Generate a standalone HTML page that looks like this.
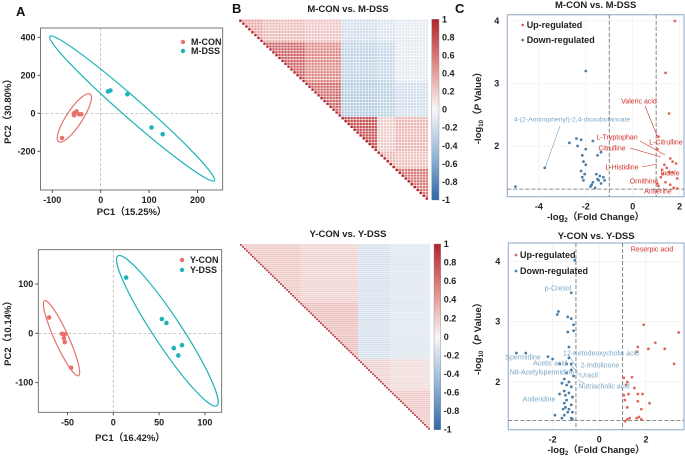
<!DOCTYPE html>
<html><head><meta charset="utf-8">
<style>
html,body{margin:0;padding:0;background:#fff;}
svg{display:block;font-family:"Liberation Sans",Arial,sans-serif;}
.tk{font-size:9px;font-weight:bold;fill:#222;}
.at{font-size:9.5px;font-weight:bold;fill:#222;}
.pl{font-size:13px;font-weight:bold;fill:#111;}
</style></head>
<body>
<svg id="fig" width="685" height="458" viewBox="0 0 685 458"></svg>
<script>
// ---------- DATA ----------
// PCA top (M)
const pcaTopCON_x=[-80,-55,-50,-45,-55,-40];
const pcaTopCON_y=[-130,-10,10,-5,0,-5];
const pcaTopDSS_x=[15,20,55,105,128];
const pcaTopDSS_y=[115,120,100,-75,-110];
const pcaTopXTicks=[-100,0,100,200];
const pcaTopYTicks=[400,200,0,-200];
// PCA bottom (Y)
const pcaBotCON_x=[-70,-56,-53,-54,-53,-46];
const pcaBotCON_y=[32,-1,-2,-10,-18,-70];
const pcaBotDSS_x=[14,53,58,66,71,75];
const pcaBotDSS_y=[113,29,21,-30,-45,-24];
const pcaBotXTicks=[-50,0,50,100];
const pcaBotYTicks=[100,0,-100];
// Heatmap group structure
const hmTopGroups=[8,14,12,12,6,11];
const hmTopCorr=[[0.4,0.3,0.25,-0.2,-0.15,-0.1],[0,0.75,0.55,-0.3,-0.25,-0.1],[0,0,0.7,-0.35,-0.3,-0.2],[0,0,0,0.8,0.2,0.3],[0,0,0,0,0.3,0.25],[0,0,0,0,0,0.6]];
const hmBotGroups=[30,29,16,20];
const hmBotCorr=[[0.25,0.2,-0.2,-0.15],[0,0.3,-0.2,-0.15],[0,0,0.2,0.15],[0,0,0,0.25]];
const cbTicks=["1","0.8","0.6","0.4","0.2","0","-0.2","-0.4","-0.6","-0.8","-1"];
// Volcano top
const vTopUp_x=[1.8,1.4,1.55,1.1,1.05,1.6,1.7,1.85,1.35,1.45,1.25,1.55,1.3,1.2,1.7,1.9,1.05,1.4,1.6,1.1,1.75,1.9];
const vTopUp_y=[4.0,3.17,2.52,2.15,1.95,1.8,1.75,1.72,1.7,1.65,1.62,1.58,1.55,1.5,1.58,1.48,1.4,1.42,1.38,1.36,1.33,1.32];
const vTopDn_x=[-2.0,-3.75,-5.0,-2.4,-2.2,-2.7,-2.35,-1.7,-2.0,-2.15,-1.5,-2.1,-2.0,-1.35,-2.2,-2.05,-2.15,-2.1,-1.55,-1.4,-1.25,-1.5,-1.45,-1.7,-1.35,-1.75,-1.8,-1.6,-1.2];
const vTopDn_y=[3.2,1.65,1.35,2.12,2.1,2.05,2.0,2.08,1.95,1.85,1.85,1.75,1.7,1.9,1.6,1.55,1.5,1.45,1.55,1.52,1.5,1.47,1.45,1.42,1.4,1.38,1.35,1.33,1.45];
const vTopXTicks=[-4,-2,0,2];
const vTopYTicks=[4,3,2];
// Volcano bottom
const vBotUp_x=[1.9,3.4,2.4,1.65,2.1,2.8,1.6,3.2,1.05,1.4,1.2,1.15,1.5,1.05,1.25,1.65,1.85,1.1,1.65,2.15,1.8,1.2,1.3,1.2,1.6,1.8,1.1,1.7];
const vBotUp_y=[2.95,2.82,2.65,2.58,2.55,2.55,2.5,2.3,2.07,2.08,2.0,1.95,1.9,1.78,1.8,1.8,1.8,1.7,1.68,1.65,1.55,1.58,1.4,1.38,1.4,1.38,1.35,1.42];
const vBotDn_x=[-1.05,-1.2,-1.75,-1.8,-1.35,-1.2,-1.1,-1.35,-1.1,-1.3,-3.55,-3.15,-2.2,-2.0,-1.3,-1.4,-1.2,-1.7,-1.4,-1.2,-1.1,-1.5,-1.3,-1.6,-1.4,-1.2,-1.5,-1.3,-1.7,-1.45,-1.15,-1.4,-1.5,-1.2,-1.45,-1.3,-1.15,-1.9,-1.5,-1.6,-1.2,-1.15,-1.35,-1.55];
const vBotDn_y=[4.02,3.48,3.17,3.12,3.08,3.05,2.95,2.83,2.85,2.58,2.48,2.48,2.42,2.38,2.4,2.3,2.3,2.3,2.15,2.2,2.1,2.05,2.0,1.98,1.95,1.92,1.85,1.82,1.8,1.78,1.75,1.7,1.65,1.62,1.58,1.55,1.5,1.45,1.45,1.4,1.4,1.38,1.5,1.55];
const vBotXTicks=[-2,0,2];
const vBotYTicks=[4,3,2];

// ---------- HELPERS ----------
const NS="http://www.w3.org/2000/svg";
const svg=document.getElementById('fig');
function mk(tag,attrs,parent){const e=document.createElementNS(NS,tag);for(const k in attrs)e.setAttribute(k,attrs[k]);(parent||svg).appendChild(e);return e;}
function txt(x,y,s,cls,extra,parent){const t=mk('text',Object.assign({x:x,y:y,class:cls||''},extra||{}),parent);t.textContent=s;return t;}
function lin(d0,d1,r0,r1){return v=>r0+(v-d0)*(r1-r0)/(d1-d0);}

// ---------- PANEL LABELS ----------
[["A",16,16],["B",232,13],["C",455,13]].forEach(p=>{
  const t=txt(p[1],p[2],p[0],'pl');
  
  
});

// ---------- PCA ----------
function pca(cfg){
  const g=mk('g',{});
  
  
  const X=cfg.X,Y=cfg.Y,b=cfg.box;
  const frame=mk('rect',{x:b[0],y:b[1],width:b[2]-b[0],height:b[3]-b[1],fill:'none',stroke:'#555','stroke-width':0.8},g);
  
  
  mk('line',{x1:X(0),x2:X(0),y1:b[1],y2:b[3],stroke:'#aaa','stroke-dasharray':'3,2','stroke-width':0.7},g);
  mk('line',{x1:b[0],x2:b[2],y1:Y(0),y2:Y(0),stroke:'#aaa','stroke-dasharray':'3,2','stroke-width':0.7},g);
  cfg.xt.forEach(v=>{mk('line',{x1:X(v),x2:X(v),y1:b[3],y2:b[3]+3,stroke:'#555'},g);
    const t=txt(X(v),b[3]+13,String(v),'tk',{'text-anchor':'middle'},g);
    
    });
  cfg.yt.forEach(v=>{mk('line',{x1:b[0]-3,x2:b[0],y1:Y(v),y2:Y(v),stroke:'#555'},g);
    const t=txt(b[0]-5,Y(v)+3,String(v),'tk',{'text-anchor':'end'},g);
    
    });
  const xt=txt((b[0]+b[2])/2,cfg.xlabY,cfg.xlab,'at',{'text-anchor':'middle'},g);
  
  
  const yc=(b[1]+b[3])/2;
  const yt=txt(11,yc,cfg.ylab,'at',{'text-anchor':'middle',transform:'rotate(-90 11 '+yc+')'},g);
  
  
  cfg.ell.forEach(e=>{
    const x1=X(e[0]),y1=Y(e[1]),x2=X(e[2]),y2=Y(e[3]);
    const cx=(x1+x2)/2,cy=(y1+y2)/2,rx=Math.hypot(x2-x1,y2-y1)/2,ang=Math.atan2(y2-y1,x2-x1)*180/Math.PI;
    const el=mk('ellipse',{cx:cx,cy:cy,rx:rx,ry:e[4],fill:'none',stroke:e[5],'stroke-width':1.2,transform:'rotate('+ang+' '+cx+' '+cy+')'},g);
    
    
  });
  cfg.series.forEach(s=>{
    s.x.forEach((v,i)=>{
      const c=mk('circle',{cx:X(v),cy:Y(s.y[i]),r:2.3,fill:s.c},g);
      
      
    });
    const lg=mk('circle',{cx:cfg.leg[0],cy:s.ly,r:2.2,fill:s.c},g);
    
    
    const lt=txt(cfg.leg[0]+8,s.ly+3,s.label,'tk',{},g);
    
    
  });
}
const RED='#e8716a',TEAL='#1db3b8';
{
  const X=lin(0,100,100.7,149.1),Y=lin(0,200,113.3,75.3);
  pca({name:'pca-m',X:X,Y:Y,box:[40.5,28,222.7,190],xt:pcaTopXTicks,yt:pcaTopYTicks,
    xlab:'PC1（15.25%）',xlabY:215,ylab:'PC2（30.80%）',leg:[183],
    ell:[[-105,405,235,-355,10,TEAL],[-22,101,-87,-150,8,RED]],
    series:[{name:'m-con',x:pcaTopCON_x,y:pcaTopCON_y,c:RED,label:'M-CON',ly:42},
            {name:'m-dss',x:pcaTopDSS_x,y:pcaTopDSS_y,c:TEAL,label:'M-DSS',ly:51}]});
}
{
  const X=lin(0,50,113.3,159.1),Y=lin(0,100,333.3,284);
  pca({name:'pca-y',X:X,Y:Y,box:[38.3,249.7,221.7,412.3],xt:pcaBotXTicks,yt:pcaBotYTicks,
    xlab:'PC1（16.42%）',xlabY:441,ylab:'PC2（10.14%）',leg:[182],
    ell:[[-75,66,-38,-86,7,RED],[5,157,113,-147,14,TEAL]],
    series:[{name:'y-con',x:pcaBotCON_x,y:pcaBotCON_y,c:RED,label:'Y-CON',ly:260},
            {name:'y-dss',x:pcaBotDSS_x,y:pcaBotDSS_y,c:TEAL,label:'Y-DSS',ly:270}]});
}

// ---------- HEATMAPS ----------
const stops=[[-1,[47,103,166]],[-0.5,[150,183,215]],[0,[247,247,247]],[0.5,[225,140,135]],[1,[178,36,44]]];
function col(v){v=Math.max(-1,Math.min(1,v));for(let i=0;i<stops.length-1;i++){const a=stops[i],b=stops[i+1];if(v<=b[0]){const t=(v-a[0])/(b[0]-a[0]);return 'rgb('+a[1].map((c,k)=>Math.round(c+(b[1][k]-c)*t)).join(',')+')';}}return 'rgb(178,36,44)';}
function heat(cfg){
  const g=mk('g',{});
  
  
  const t=txt(cfg.tx,cfg.ty,cfg.title,'at',{'text-anchor':'middle'},g);
  
  
  const grp=[];cfg.groups.forEach((n,gi)=>{for(let i=0;i<n;i++)grp.push(gi);});
  const N=grp.length,[x0,y0,x1,y1]=cfg.box,cw=(x1-x0)/N,ch=(y1-y0)/N;
  for(let i=0;i<N;i++)for(let j=i;j<N;j++){
    const a=Math.min(grp[i],grp[j]),b=Math.max(grp[i],grp[j]);
    const v=(i===j)?1:cfg.corr[a][b]*cfg.scale;
    const r=mk('rect',{x:x0+j*cw,y:y0+i*ch,width:cw,height:ch,fill:col(v),stroke:cfg.grid,'stroke-width':cfg.sw},g);
    
    
  }
  const cb=cfg.cb;
  const defs=mk('defs',{},g);const lg=mk('linearGradient',{id:cfg.name+'-grad',x1:0,y1:0,x2:0,y2:1},defs);
  stops.slice().reverse().forEach((s,k)=>mk('stop',{offset:(k/4),'stop-color':col(s[0])},lg));
  const bar=mk('rect',{x:cb[0],y:cb[1],width:cb[2]-cb[0],height:cb[3]-cb[1],fill:'url(#'+cfg.name+'-grad)',stroke:'#888','stroke-width':0.4},g);
  
  
  cbTicks.forEach((s,k)=>{const yy=cb[1]+k*(cb[3]-cb[1])/(cbTicks.length-1);
    const tt=txt(cb[2]+3,yy+3,s,'tk',{'font-size':'8px'},g);
    
    });
}
heat({name:'heatmap-m',title:'M-CON vs. M-DSS',tx:348,ty:12,groups:hmTopGroups,corr:hmTopCorr,scale:1,box:[239,19.3,428.3,200],cb:[431.7,19.3,439,200],grid:'#fff',sw:0.5});
heat({name:'heatmap-y',title:'Y-CON vs. Y-DSS',tx:348,ty:237,groups:hmBotGroups,corr:hmBotCorr,scale:1,box:[240,244,430,429.7],cb:[434,244,440.7,429.7],grid:'#fff',sw:0.25});

// ---------- VOLCANO ----------
function volcano(cfg){
  const g=mk('g',{});
  
  
  const X=cfg.X,Y=cfg.Y,b=cfg.box;
  const t=txt((b[0]+b[2])/2,cfg.ty,cfg.title,'at',{'text-anchor':'middle'},g);
  
  
  cfg.xt.forEach(v=>{mk('line',{x1:X(v),x2:X(v),y1:b[1],y2:b[3],stroke:'#ececec','stroke-width':0.6},g);});
  cfg.yt.forEach(v=>{mk('line',{x1:b[0],x2:b[2],y1:Y(v),y2:Y(v),stroke:'#ececec','stroke-width':0.6},g);});
  const fr=mk('rect',{x:b[0],y:b[1],width:b[2]-b[0],height:b[3]-b[1],fill:'none',stroke:'#9fb6cf','stroke-width':1.2},g);
  
  
  [-1,1].forEach(v=>mk('line',{x1:X(v),x2:X(v),y1:b[1],y2:b[3],stroke:'#666','stroke-dasharray':'4,2','stroke-width':0.8},g));
  mk('line',{x1:b[0],x2:b[2],y1:Y(cfg.thr),y2:Y(cfg.thr),stroke:'#666','stroke-dasharray':'4,2','stroke-width':0.8},g);
  cfg.xt.forEach(v=>{const tt=txt(X(v),b[3]+13,String(v),'tk',{'text-anchor':'middle'},g);
    
    });
  cfg.yt.forEach(v=>{const tt=txt(b[0]-8,Y(v)+3,String(v),'tk',{'text-anchor':'end'},g);
    
    });
  const xa=txt((b[0]+b[2])/2,cfg.xly,'','at',{'text-anchor':'middle'},g);
  xa.innerHTML='-log<tspan font-size="6" dy="2">2</tspan><tspan dy="-2">（Fold Change）</tspan>';
  
  
  const yc=(b[1]+b[3])/2;
  const ya=txt(cfg.ylx,yc,'','at',{'text-anchor':'middle',transform:'rotate(-90 '+cfg.ylx+' '+yc+')'},g);
  ya.innerHTML='-log<tspan font-size="6" dy="2">10</tspan><tspan dy="-2">（</tspan><tspan font-style="italic">P</tspan><tspan> Value）</tspan>';
  
  
  cfg.lines.forEach(l=>{const ln=mk('line',{x1:l[0],y1:l[1],x2:l[2],y2:l[3],stroke:l[4],'stroke-width':0.6},g);
    
    });
  cfg.series.forEach(s=>{s.x.forEach((v,i)=>{
    const c=mk('circle',{cx:X(v),cy:Y(s.y[i]),r:1.4,fill:s.c},g);
    
    });
    const lm=mk('circle',{cx:cfg.leg[0],cy:s.ly,r:1.4,fill:s.c},g);
    
    
    const lt=txt(cfg.leg[0]+4,s.ly+3,s.label,'tk',{'font-size':cfg.lfs},g);
    
    });
  cfg.labels.forEach(l=>{const tt=txt(l[1],l[2]+2.5,l[0],'',{'text-anchor':'middle','font-size':l[4]||7,fill:l[3]},g);
    
    });
}
const VR='#e0675f',VB='#4a7ea8',TR='#d3302a',TB='#7aa6c6';
volcano({name:'volcano-m',title:'M-CON vs. M-DSS',ty:8,box:[507.3,14.7,684,196.7],
  X:lin(0,2,632.7,679.6),Y:lin(2,3,146,83.5),xt:vTopXTicks,yt:vTopYTicks,thr:1.31,xly:220,ylx:481,
  leg:[522.7],lfs:'8px',
  series:[{name:'up',x:vTopUp_x,y:vTopUp_y,c:VR,label:'Up-regulated',ly:25},
          {name:'down',x:vTopDn_x,y:vTopDn_y,c:VB,label:'Down-regulated',ly:40}],
  lines:[[645,106,658,138,TR],[640,141,665,155,TR],[630,148,661,157,TR],[642,167,657,164,TR],[560,126,545,168,TB]],
  labels:[['Valeric acid',639,101,TR],['L-Tryptophan',617,137,TR],['L-Citrulline',666,142,TR],['Citrulline',612,148,TR],
    ['L-Histidine',622,167,TR],['Indole',670,173,TR],['Ornithine',644,181,TR],['Anserine',658,191,TR],
    ['4-(2-Aminophenyl)-2,4-dioxobutanoate',572,119,TB,6.8]]});
volcano({name:'volcano-y',title:'Y-CON vs. Y-DSS',ty:239,box:[508.3,243,684,429.7],
  X:lin(0,2,599.3,646),Y:lin(2,3,382,321.7),xt:vBotXTicks,yt:vBotYTicks,thr:1.36,xly:453,ylx:481,
  leg:[516],lfs:'9.5px',
  series:[{name:'up',x:vBotUp_x,y:vBotUp_y,c:VR,label:'Up-regulated',ly:255},
          {name:'down',x:vBotDn_x,y:vBotDn_y,c:VB,label:'Down-regulated',ly:271}],
  lines:[[568,354,577,368,TB],[570,365,578,372,TB],[575,372,580,375,TB],[578,380,585,384,TB]],
  labels:[['Reserpic acid',652,249,TR],['p-Cresol',558,288,TB],['12-Ketodeoxycholic acid',601,353,TB],['Spermidine',523,357,TB],
    ['Acetic acid',550,363,TB],['2-Indolinone',600,365,TB],['N8-Acetylspermidine',542,372,TB],['Uracil',589,375,TB],
    ['Nutriacholic acid',604,386,TB],['Anileridine',539,399,TB]]});
</script>
</body></html>
